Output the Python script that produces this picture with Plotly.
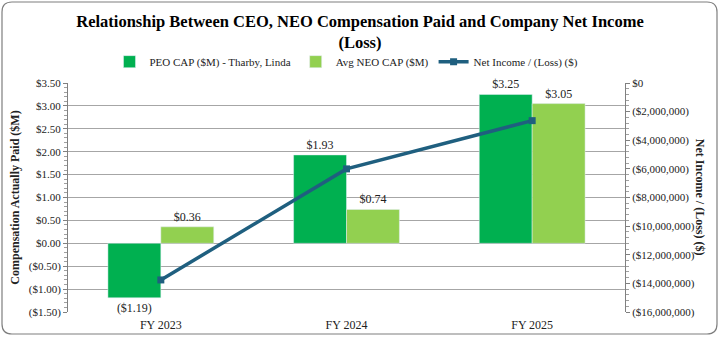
import plotly.graph_objects as go

years = ["FY 2023", "FY 2024", "FY 2025"]
peo_cap = [-1.19, 1.93, 3.25]
neo_cap = [0.36, 0.74, 3.05]
net_income = [-13760000, -6000000, -2630000]

left_ticks = [3.5, 3.0, 2.5, 2.0, 1.5, 1.0, 0.5, 0.0, -0.5, -1.0, -1.5]
right_ticks = [0, -2e6, -4e6, -6e6, -8e6, -10e6, -12e6, -14e6, -16e6]

def money(v, dec=2):
    s = f"${abs(v):,.{dec}f}"
    return f"({s})" if v < 0 else s

FONT = "Liberation Serif, Times New Roman, serif"
TF = dict(family=FONT, size=11, color="#222")
fig = go.Figure()
fig.add_trace(go.Bar(x=years, y=peo_cap, name="PEO CAP ($M) - Tharby, Linda",
                     marker_color="#00B050", text=[money(v) for v in peo_cap],
                     textposition="outside", cliponaxis=False,
                     textfont=dict(family=FONT, size=12, color="#222")))
fig.add_trace(go.Bar(x=years, y=neo_cap, name="Avg NEO CAP ($M)",
                     marker_color="#92D050", text=[money(v) for v in neo_cap],
                     textposition="outside", cliponaxis=False,
                     textfont=dict(family=FONT, size=12, color="#222")))
fig.add_trace(go.Scatter(x=years, y=net_income, name="Net Income / (Loss) ($)",
                         yaxis="y2", mode="lines+markers",
                         line=dict(color="#1F5F7F", width=3.5),
                         marker=dict(symbol="square", size=7, color="#1F5F7F")))

W, H, L, R, T, B = 720, 337, 68, 95, 83, 25
fig.update_layout(
    width=W, height=H,
    margin=dict(l=L, r=R, t=T, b=B, autoexpand=False),
    paper_bgcolor="white", plot_bgcolor="white",
    font=dict(family=FONT, size=11, color="#222"),
    barmode="group", bargap=0.43, bargroupgap=0,
    title=dict(text="Relationship Between CEO, NEO Compensation Paid and Company Net Income<br>(Loss)",
               x=0.5, xanchor="center", xref="container", yref="container",
               y=1 - 27 / 337, yanchor="middle",
               font=dict(family=FONT, size=16.5, color="black", weight="bold")),
    legend=dict(orientation="h", x=0.5, xanchor="center", y=1.03, yanchor="bottom",
                font=dict(family=FONT, size=11), traceorder="normal",
                itemwidth=30, bgcolor="rgba(0,0,0,0)"),
    showlegend=True,
    xaxis=dict(showline=False, ticks="", ticklabelstandoff=4, automargin=False,
               tickfont=dict(family=FONT, size=12, color="#222")),
    yaxis=dict(range=[-1.5, 3.5], tickvals=left_ticks, ticktext=[money(v) for v in left_ticks],
               tickfont=TF, automargin=False,
               showgrid=True, gridcolor="#A6A6A6", gridwidth=1,
               showline=True, linecolor="#808080", ticks="outside", ticklen=4,
               tickcolor="#808080", zeroline=False,
               minor=dict(dtick=0.1, ticks="outside", ticklen=3, tickcolor="#A0A0A0", showgrid=False),
               title=dict(text="<b>Compensation Actually Paid ($M)</b>",
                          font=dict(family=FONT, size=12, color="#222"), standoff=6)),
    yaxis2=dict(range=[-16e6, 0], overlaying="y", side="right",
                tickvals=right_ticks, ticktext=[money(v, 0) for v in right_ticks],
                tickfont=TF, automargin=False,
                showgrid=False, showline=True, linecolor="#808080", ticks="outside",
                ticklen=4, tickcolor="#808080", zeroline=False,
                minor=dict(dtick=400000, ticks="outside", ticklen=3, tickcolor="#A0A0A0")),
)
fig.add_annotation(text="<b>Net Income / (Loss) ($)</b>", textangle=90,
                   xref="paper", yref="paper", x=1.152, y=0.5, showarrow=False,
                   font=dict(family=FONT, size=12, color="#222"))
# rounded border around whole chart
pw, ph = W - L - R, H - T - B
def px(x): return (x - L) / pw
def py(y): return (H - B - y) / ph
r = 10
x0, y0, x1, y1 = 2, 2, 717, 334
path = (f"M {px(x0+r)} {py(y0)} L {px(x1-r)} {py(y0)} Q {px(x1)} {py(y0)} {px(x1)} {py(y0+r)} "
        f"L {px(x1)} {py(y1-r)} Q {px(x1)} {py(y1)} {px(x1-r)} {py(y1)} "
        f"L {px(x0+r)} {py(y1)} Q {px(x0)} {py(y1)} {px(x0)} {py(y1-r)} "
        f"L {px(x0)} {py(y0+r)} Q {px(x0)} {py(y0)} {px(x0+r)} {py(y0)} Z")
fig.add_shape(type="path", xref="paper", yref="paper", path=path,
              line=dict(color="#7F7F7F", width=1.2), layer="below")

fig.write_html("out.html")
